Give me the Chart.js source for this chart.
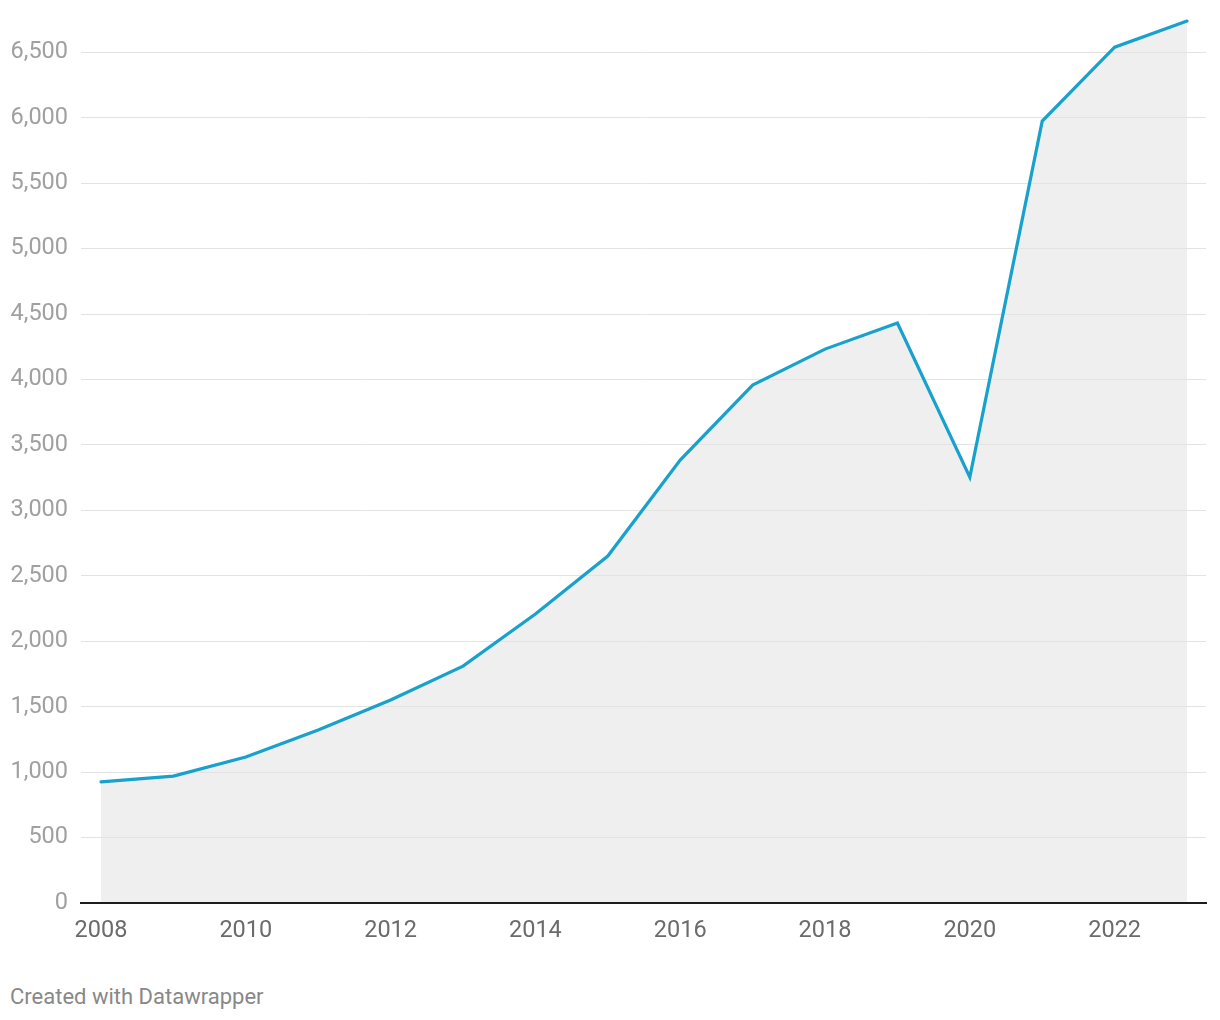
<!DOCTYPE html>
<html>
<head>
<meta charset="utf-8">
<script src="https://cdn.jsdelivr.net/npm/chart.js@4.4.1/dist/chart.umd.min.js"></script>
<style>
  html, body { margin: 0; padding: 0; background: #ffffff; }
  #wrap { position: absolute; left: 0; top: 0; width: 1220px; height: 960px; }
  #footer { position: absolute; left: 10px; top: 983px; font-family: Roboto, sans-serif; font-size: 22px; color: #888888; line-height: 28px; }
</style>
</head>
<body>
<div id="wrap"><canvas id="c"></canvas></div>
<div id="footer">Created with Datawrapper</div>
<script>
const years = [2008, 2009, 2010, 2011, 2012, 2013, 2014, 2015, 2016, 2017, 2018, 2019, 2020, 2021, 2022, 2023];
const values = [925, 970, 1115, 1322, 1551, 1810, 2208, 2651, 3384, 3957, 4232, 4431, 3254, 5974, 6539, 6738];
const xTickYears = [2008, 2010, 2012, 2014, 2016, 2018, 2020, 2022];
const yTickValues = [0, 500, 1000, 1500, 2000, 2500, 3000, 3500, 4000, 4500, 5000, 5500, 6000, 6500];

const points = years.map((y, i) => ({ x: y, y: values[i] }));

new Chart(document.getElementById('c'), {
  type: 'line',
  data: {
    datasets: [{
      data: points,
      borderColor: '#18a1cd',
      borderWidth: 3.2,
      backgroundColor: '#efefef',
      fill: 'origin',
      pointRadius: 0,
      tension: 0,
      borderJoinStyle: 'miter',
      borderCapStyle: 'round'
    }]
  },
  options: {
    responsive: true,
    maintainAspectRatio: false,
    animation: false,
    layout: { padding: { top: 13, right: 14, left: 0, bottom: 0 } },
    plugins: {
      legend: { display: false },
      tooltip: { enabled: false },
      filler: { drawTime: 'beforeDraw' }
    },
    scales: {
      x: {
        type: 'linear',
        min: 2007.724,
        max: 2023.262,
        grid: { display: false, drawTicks: false },
        border: { display: true, color: '#1d1d1d', width: 2 },
        afterBuildTicks: (scale) => { scale.ticks = xTickYears.map(v => ({ value: v })); },
        afterFit: (scale) => { scale.height = 57; scale.paddingLeft = 0; scale.paddingRight = 0; },
        ticks: {
          padding: 14,
          autoSkip: false,
          maxRotation: 0,
          color: '#6b6b6b',
          font: { family: 'Roboto', size: 23.5 },
          callback: (v) => String(v)
        }
      },
      y: {
        type: 'linear',
        min: 0,
        max: 6800,
        grid: { color: '#e3e3e3', lineWidth: 1, drawTicks: false },
        border: { display: false },
        afterBuildTicks: (scale) => { scale.ticks = yTickValues.map(v => ({ value: v })); },
        afterFit: (scale) => { scale.width = 81; scale.paddingTop = 0; scale.paddingBottom = 0; },
        ticks: {
          padding: 13,
          color: '#a0a0a0',
          font: { family: 'Roboto', size: 23.5 },
          callback: (v) => v.toLocaleString('en-US')
        }
      }
    }
  }
});
</script>
</body>
</html>
